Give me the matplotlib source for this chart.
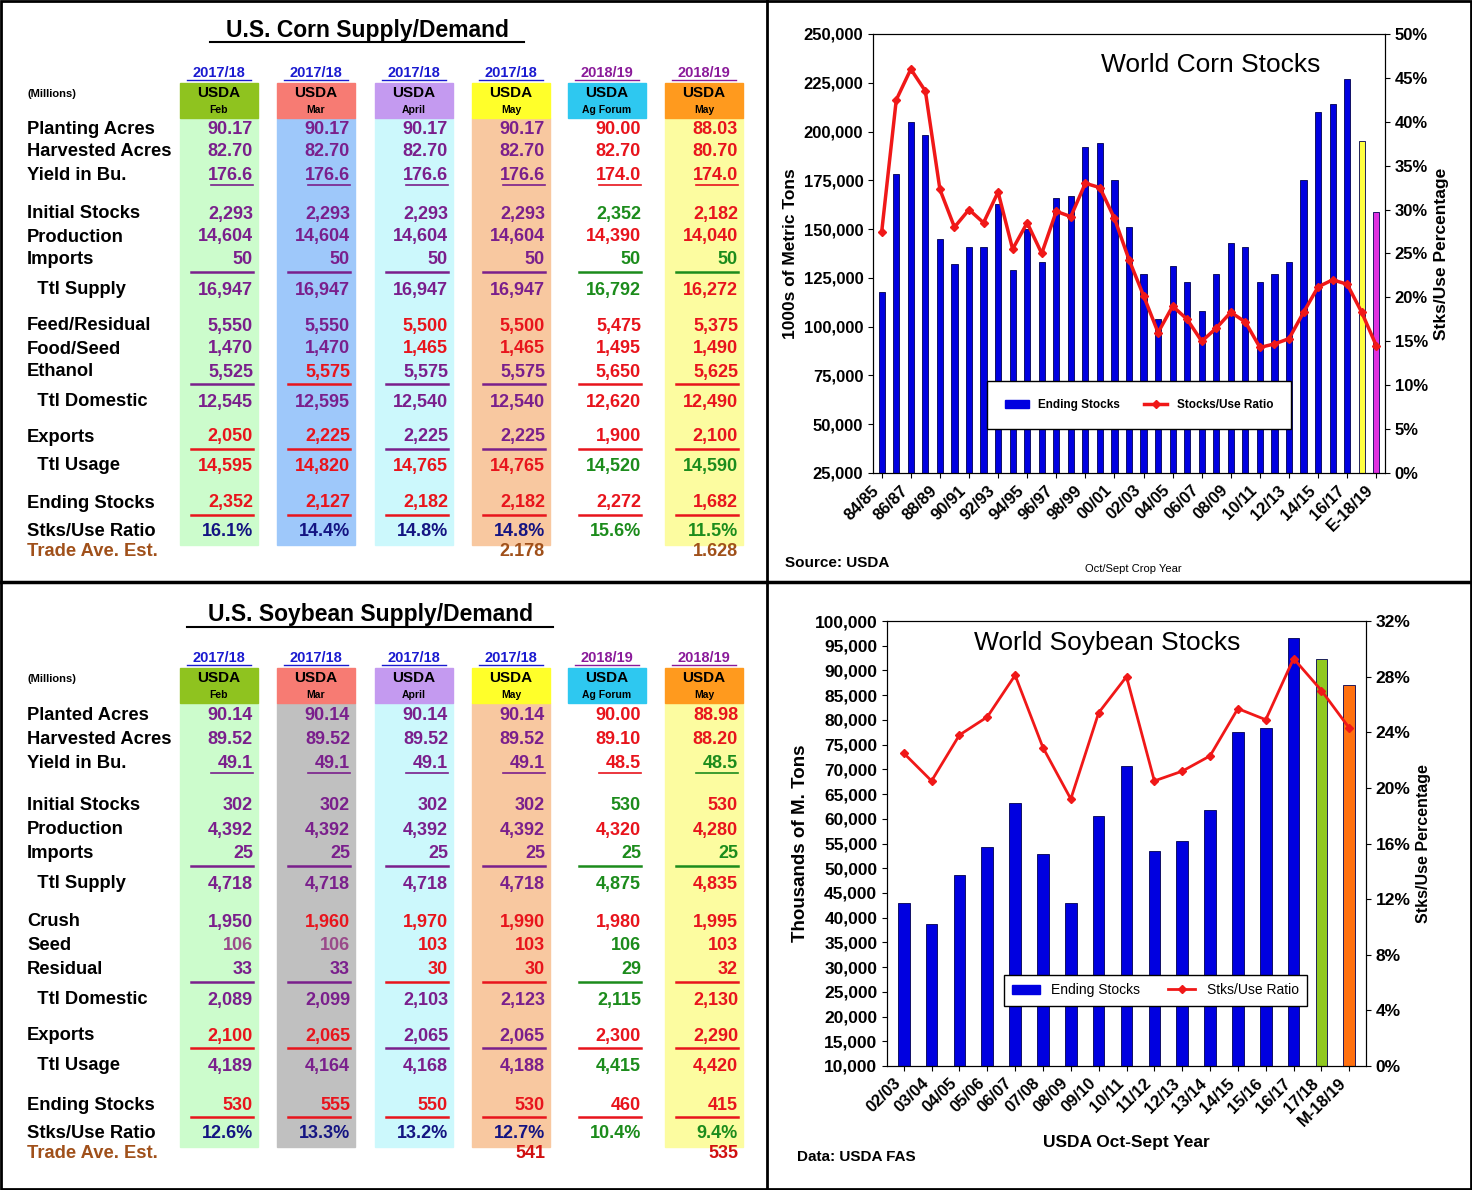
import matplotlib
matplotlib.use("Agg")
import matplotlib.pyplot as plt
from matplotlib.patches import Rectangle
from matplotlib.lines import Line2D
from matplotlib.ticker import FuncFormatter

plt.rcParams['font.family'] = ['Liberation Sans', 'DejaVu Sans']
W, H = 1472, 1190
fig = plt.figure(figsize=(W/100, H/100), dpi=100)
bg = fig.add_axes([0, 0, 1, 1])
bg.set_xlim(0, W); bg.set_ylim(H, 0); bg.axis('off')

# ---------------- data ----------------
col_years = ["2017/18", "2017/18", "2017/18", "2017/18", "2018/19", "2018/19"]
col_months = ["Feb", "Mar", "April", "May", "Ag Forum", "May"]

corn_labels = ["Planting Acres", "Harvested Acres", "Yield in Bu.", "Initial Stocks", "Production",
               "Imports", "  Ttl Supply", "Feed/Residual", "Food/Seed", "Ethanol", "  Ttl Domestic",
               "Exports", "  Ttl Usage", "Ending Stocks", "Stks/Use Ratio"]
corn_vals = [
    ["90.17", "90.17", "90.17", "90.17", "90.00", "88.03"],
    ["82.70", "82.70", "82.70", "82.70", "82.70", "80.70"],
    ["176.6", "176.6", "176.6", "176.6", "174.0", "174.0"],
    ["2,293", "2,293", "2,293", "2,293", "2,352", "2,182"],
    ["14,604", "14,604", "14,604", "14,604", "14,390", "14,040"],
    ["50", "50", "50", "50", "50", "50"],
    ["16,947", "16,947", "16,947", "16,947", "16,792", "16,272"],
    ["5,550", "5,550", "5,500", "5,500", "5,475", "5,375"],
    ["1,470", "1,470", "1,465", "1,465", "1,495", "1,490"],
    ["5,525", "5,575", "5,575", "5,575", "5,650", "5,625"],
    ["12,545", "12,595", "12,540", "12,540", "12,620", "12,490"],
    ["2,050", "2,225", "2,225", "2,225", "1,900", "2,100"],
    ["14,595", "14,820", "14,765", "14,765", "14,520", "14,590"],
    ["2,352", "2,127", "2,182", "2,182", "2,272", "1,682"],
    ["16.1%", "14.4%", "14.8%", "14.8%", "15.6%", "11.5%"],
]
corn_cols = ["PPPPRR", "PPPPRR", "PPPPRR", "PPPPGR", "PPPPRR", "PPPPGG", "PPPPGR", "PPRRRR",
             "PPRRRR", "PRPPRR", "PPPPRR", "RRPPRR", "RRRRGG", "RRRRRR", "BBBBGG"]
corn_y = [129, 152, 175, 214, 237, 260, 290, 326, 349, 372, 402, 437, 466, 503, 532]
corn_ul = [2, 5, 9, 11, 13]
corn_trade = ["", "", "", "2.178", "", "1.628"]

soy_labels = ["Planted Acres", "Harvested Acres", "Yield in Bu.", "Initial Stocks", "Production",
              "Imports", "  Ttl Supply", "Crush", "Seed", "Residual", "  Ttl Domestic",
              "Exports", "  Ttl Usage", "Ending Stocks", "Stks/Use Ratio"]
soy_vals = [
    ["90.14", "90.14", "90.14", "90.14", "90.00", "88.98"],
    ["89.52", "89.52", "89.52", "89.52", "89.10", "88.20"],
    ["49.1", "49.1", "49.1", "49.1", "48.5", "48.5"],
    ["302", "302", "302", "302", "530", "530"],
    ["4,392", "4,392", "4,392", "4,392", "4,320", "4,280"],
    ["25", "25", "25", "25", "25", "25"],
    ["4,718", "4,718", "4,718", "4,718", "4,875", "4,835"],
    ["1,950", "1,960", "1,970", "1,990", "1,980", "1,995"],
    ["106", "106", "103", "103", "106", "103"],
    ["33", "33", "30", "30", "29", "32"],
    ["2,089", "2,099", "2,103", "2,123", "2,115", "2,130"],
    ["2,100", "2,065", "2,065", "2,065", "2,300", "2,290"],
    ["4,189", "4,164", "4,168", "4,188", "4,415", "4,420"],
    ["530", "555", "550", "530", "460", "415"],
    ["12.6%", "13.3%", "13.2%", "12.7%", "10.4%", "9.4%"],
]
soy_cols = ["PPPPRR", "PPPPRR", "PPPPRG", "PPPPGR", "PPPPRR", "PPPPGG", "PPPPGR", "PRRRRR",
            "MMRRGR", "PPRRGR", "PPPPGR", "RRPPRR", "PPPPGR", "RRRRRR", "BBBBGG"]
soy_y = [716, 740, 763, 806, 830, 854, 884, 922, 946, 970, 1000, 1036, 1066, 1105, 1134]
soy_ul = [2, 5, 9, 11, 13]
soy_trade = ["", "", "", "541", "", "535"]

corn_years = ["84/85", "85/86", "86/87", "87/88", "88/89", "89/90", "90/91", "91/92", "92/93", "93/94",
              "94/95", "95/96", "96/97", "97/98", "98/99", "99/00", "00/01", "01/02", "02/03", "03/04",
              "04/05", "05/06", "06/07", "07/08", "08/09", "09/10", "10/11", "11/12", "12/13", "13/14",
              "14/15", "15/16", "16/17", "17/18", "E-18/19"]
corn_stocks = [118, 178, 205, 198, 145, 132, 141, 141, 163, 129, 150, 133, 166, 167, 192, 194, 175,
               151, 127, 104, 131, 123, 108, 127, 143, 141, 123, 127, 133, 175, 210, 214, 227, 195, 159]
corn_ratio = [27.5, 42.5, 46.0, 43.5, 32.3, 28.0, 30.0, 28.5, 32.0, 25.5, 28.5, 25.0, 29.8, 29.2,
              33.0, 32.5, 29.0, 24.3, 20.2, 16.0, 19.0, 17.5, 15.0, 16.5, 18.3, 17.2, 14.3, 14.7,
              15.3, 18.3, 21.2, 22.0, 21.5, 18.3, 14.5]

soy_years = ["02/03", "03/04", "04/05", "05/06", "06/07", "07/08", "08/09", "09/10", "10/11", "11/12",
             "12/13", "13/14", "14/15", "15/16", "16/17", "17/18", "M-18/19"]
soy_stocks = [43.0, 38.7, 48.7, 54.2, 63.1, 52.8, 42.9, 60.5, 70.6, 53.5, 55.5, 61.7, 77.6, 78.3,
              96.5, 92.3, 87.0]
soy_ratio = [22.5, 20.5, 23.8, 25.1, 28.1, 22.9, 19.2, 25.4, 28.0, 20.5, 21.2, 22.3, 25.7, 24.9,
             29.3, 27.0, 24.3]

# ---------------- tables ----------------
CMAP = {'P': '#7a1f8c', 'R': '#e8141c', 'G': '#1c8c1c', 'B': '#141482', 'M': '#9a4a8a'}
col_left = [180, 277, 375, 472, 568, 665]
col_w = 78
head_cols = ['#8fc31f', '#f77b73', '#c49af0', '#ffff2a', '#2ec8f0', '#ff9a1e']
year_cols = ['#1a1ad0'] * 4 + ['#8a1a9a'] * 2
LF = 13.2
VF = 13


def table(y0, title, tx, body_cols, labels, vals, cols, ys, uls, trade, top, bottom, tradecol):
    bg.text(tx, y0 + 30, title, fontsize=16.5, fontweight='bold', ha='center', va='center')
    tw = {'U.S. Corn Supply/Demand': 314, 'U.S. Soybean Supply/Demand': 366}[title]
    bg.plot([tx - tw / 2, tx + tw / 2], [y0 + 42, y0 + 42], color='black', lw=1.5)
    bg.text(27, y0 + 94, "(Millions)", fontsize=8, fontweight='bold', va='center')
    for i in range(6):
        l = col_left[i]
        c = l + col_w / 2
        bg.add_patch(Rectangle((l, top), col_w, bottom - top, color=body_cols[i], zorder=0))
        bg.add_patch(Rectangle((l, y0 + 83), col_w, 35, color=head_cols[i], zorder=1))
        bg.text(c, y0 + 73, col_years[i], fontsize=10.5, fontweight='bold', color=year_cols[i],
                ha='center', va='center')
        bg.plot([c - 32, c + 32], [y0 + 80, y0 + 80], color=year_cols[i], lw=1)
        bg.text(c, y0 + 93, "USDA", fontsize=11, fontweight='bold', ha='center', va='center', zorder=2)
        bg.text(c, y0 + 110, col_months[i], fontsize=7.5, fontweight='bold', ha='center', va='center', zorder=2)
    for r, lab in enumerate(labels):
        y = ys[r]
        bg.text(27, y, lab, fontsize=LF, fontweight='bold', va='center')
        for i in range(6):
            rx = col_left[i] + col_w - 5
            colr = CMAP[cols[r][i]]
            bg.text(rx, y, vals[r][i], fontsize=VF, fontweight='bold', color=colr, ha='right', va='center')
            if r in uls:
                if r == 2:
                    bg.plot([rx - 42, rx], [y + 10, y + 10], color=colr, lw=1.2)
                else:
                    bg.plot([rx - 62, rx], [y + 12, y + 12], color=colr, lw=1.8)
    ty = ys[-1] + 20
    bg.text(27, ty, "Trade Ave. Est.", fontsize=LF, fontweight='bold', color='#a0501a', va='center')
    for i in range(6):
        if trade[i]:
            bg.text(col_left[i] + col_w - 5, ty, trade[i], fontsize=VF, fontweight='bold',
                    color=tradecol, ha='right', va='center')


table(0, "U.S. Corn Supply/Demand", 367,
      ['#ccfccc', '#9ec8fa', '#ccf8fc', '#f8c8a0', '#ffffff', '#fcfca0'],
      corn_labels, corn_vals, corn_cols, corn_y, corn_ul, corn_trade, 118, 545, '#a0501a')
table(585, "U.S. Soybean Supply/Demand", 370,
      ['#ccfccc', '#c0c0c0', '#ccf8fc', '#f8c8a0', '#ffffff', '#fcfca0'],
      soy_labels, soy_vals, soy_cols, soy_y, soy_ul, soy_trade, 703, 1147, '#d01010')

# dividers
bg.plot([0, W], [582, 582], color='black', lw=2.5)
bg.plot([767, 767], [0, H], color='black', lw=2)
bg.add_patch(Rectangle((1, 1), W - 2, H - 2, fill=False, lw=2, ec='black'))


# ---------------- charts ----------------
def fx(l, t, r, b):
    return [l / W, 1 - b / H, (r - l) / W, (b - t) / H]


tickfont = dict(fontsize=12, fontweight='bold')

# Corn
ax = fig.add_axes(fx(873, 34, 1385, 473))
x = list(range(len(corn_years)))
bcols = ['#0000e0'] * (len(x) - 2) + ['#ffff40', '#e030e0']
ax.bar(x, [v * 1000 for v in corn_stocks], width=0.42, color=bcols, edgecolor='#000050', lw=0.6)
ax.set_ylim(25000, 250000); ax.set_xlim(-0.6, len(x) - 0.4)
ax.set_yticks(range(25000, 250001, 25000))
ax.yaxis.set_major_formatter(FuncFormatter(lambda v, p: f"{int(v):,}"))
ax.set_xticks(x[::2]); ax.set_xticklabels(corn_years[::2], rotation=45, ha='right', **tickfont)
for t in ax.get_yticklabels():
    t.set_fontsize(12); t.set_fontweight('bold')
ax.set_ylabel("1000s of Metric Tons", fontsize=12.5, fontweight='bold')
ax2 = ax.twinx()
ax2.plot(x, corn_ratio, color='#f01818', lw=2.5, marker='D', ms=4)
ax2.set_ylim(0, 50); ax2.set_yticks(range(0, 51, 5))
ax2.yaxis.set_major_formatter(FuncFormatter(lambda v, p: f"{int(v)}%"))
for t in ax2.get_yticklabels():
    t.set_fontsize(12); t.set_fontweight('bold')
ax2.set_ylabel("Stks/Use Percentage", fontsize=12.5, fontweight='bold')
ax.text(0.66, 0.93, "World Corn Stocks", transform=ax.transAxes, fontsize=19, ha='center', va='center')
h = [Rectangle((0, 0), 1, 1, color='#0000e0'),
     Line2D([], [], color='#f01818', lw=2.5, marker='D', ms=4)]
ax2.legend(h, ['Ending Stocks', 'Stocks/Use Ratio'], ncol=2, loc='center', bbox_to_anchor=(0.52, 0.155),
           fancybox=False, edgecolor='black', framealpha=1, prop={'size': 8.5, 'weight': 'bold'},
           borderpad=1.5, columnspacing=2)
bg.text(785, 563, "Source: USDA", fontsize=11, fontweight='bold', va='center')
bg.text(1133, 569, "Oct/Sept Crop Year", fontsize=8, ha='center', va='center')

# Soy
ax = fig.add_axes(fx(887, 621, 1366, 1066))
x = list(range(len(soy_years)))
bcols = ['#0000e0'] * (len(x) - 2) + ['#90c820', '#ff7010']
ax.bar(x, [v * 1000 for v in soy_stocks], width=0.42, color=bcols, edgecolor='#000050', lw=0.6)
ax.set_ylim(10000, 100000); ax.set_xlim(-0.6, len(x) - 0.4)
ax.set_yticks(range(10000, 100001, 5000))
ax.yaxis.set_major_formatter(FuncFormatter(lambda v, p: f"{int(v):,}"))
ax.set_xticks(x); ax.set_xticklabels(soy_years, rotation=45, ha='right', **tickfont)
for t in ax.get_yticklabels():
    t.set_fontsize(12.5); t.set_fontweight('bold')
ax.set_ylabel("Thousands of M. Tons", fontsize=13.5, fontweight='bold')
ax.set_xlabel("USDA Oct-Sept Year", fontsize=12.5, fontweight='bold')
ax2 = ax.twinx()
ax2.plot(x, soy_ratio, color='#f01818', lw=2, marker='D', ms=4)
ax2.set_ylim(0, 32); ax2.set_yticks(range(0, 33, 4))
ax2.yaxis.set_major_formatter(FuncFormatter(lambda v, p: f"{int(v)}%"))
for t in ax2.get_yticklabels():
    t.set_fontsize(12.5); t.set_fontweight('bold')
ax2.set_ylabel("Stks/Use Percentage", fontsize=11.5, fontweight='bold')
ax.text(0.46, 0.95, "World Soybean Stocks", transform=ax.transAxes, fontsize=19, ha='center', va='center')
h = [Rectangle((0, 0), 1, 1, color='#0000e0'),
     Line2D([], [], color='#f01818', lw=2, marker='D', ms=4)]
ax2.legend(h, ['Ending Stocks', 'Stks/Use Ratio'], ncol=2, loc='center', bbox_to_anchor=(0.56, 0.17),
           fancybox=False, edgecolor='black', framealpha=1, prop={'size': 10},
           borderpad=0.6, columnspacing=2)
bg.text(797, 1157, "Data: USDA FAS", fontsize=11, fontweight='bold', va='center')

fig.savefig("out.png", dpi=100)
